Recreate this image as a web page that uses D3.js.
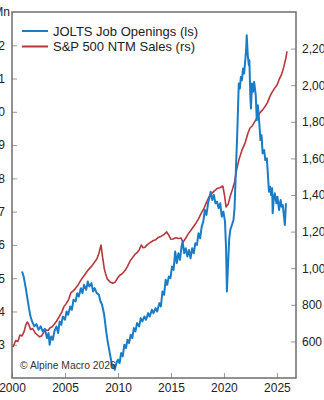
<!DOCTYPE html>
<html><head><meta charset="utf-8">
<script src="https://cdn.jsdelivr.net/npm/d3@7"></script>
<style>body{margin:0;background:#fff;overflow:hidden}svg{display:block;font-family:"Liberation Sans",Arial,sans-serif}</style>
</head><body><svg id="c" width="324" height="400"></svg>
<script>
const joltsYears=[2000.95,2001.1,2001.3,2001.45,2001.6,2001.75,2001.9,2002.1,2002.3,2002.5,2002.7,2002.9,2003.1,2003.3,2003.45,2003.55,2003.7,2003.85,2004.0,2004.2,2004.35,2004.5,2004.65,2004.8,2005.0,2005.15,2005.3,2005.5,2005.65,2005.8,2006.0,2006.15,2006.3,2006.5,2006.65,2006.8,2007.0,2007.15,2007.3,2007.5,2007.65,2007.8,2008.0,2008.2,2008.35,2008.5,2008.7,2008.85,2009.0,2009.2,2009.4,2009.5,2009.6,2009.7,2009.85,2010.0,2010.15,2010.3,2010.45,2010.6,2010.75,2010.9,2011.05,2011.2,2011.35,2011.5,2011.65,2011.8,2012.0,2012.15,2012.3,2012.5,2012.65,2012.85,2013.0,2013.2,2013.35,2013.55,2013.7,2013.9,2014.05,2014.2,2014.35,2014.5,2014.65,2014.8,2014.95,2015.1,2015.25,2015.4,2015.55,2015.7,2015.85,2016.0,2016.1,2016.25,2016.4,2016.55,2016.7,2016.85,2017.0,2017.15,2017.3,2017.45,2017.6,2017.75,2017.9,2018.05,2018.2,2018.35,2018.5,2018.65,2018.75,2018.9,2019.05,2019.2,2019.35,2019.5,2019.65,2019.8,2019.95,2020.1,2020.2,2020.28,2020.4,2020.5,2020.6,2020.75,2020.9,2021.0,2021.1,2021.25,2021.4,2021.5,2021.6,2021.7,2021.8,2021.9,2022.0,2022.1,2022.15,2022.25,2022.35,2022.4,2022.5,2022.55,2022.65,2022.75,2022.85,2023.0,2023.1,2023.2,2023.35,2023.45,2023.55,2023.65,2023.8,2023.9,2024.05,2024.15,2024.25,2024.35,2024.45,2024.55,2024.6,2024.7,2024.8,2024.95,2025.05,2025.2,2025.35,2025.45,2025.55,2025.65,2025.75,2025.85];
const joltsValues=[5.2,5.05,4.7,4.4,4.1,3.85,3.7,3.55,3.62,3.45,3.55,3.4,3.48,3.2,3.35,3.0,3.25,3.15,3.4,3.55,3.35,3.7,3.6,3.85,3.75,4.0,3.9,4.15,4.05,4.35,4.3,4.55,4.45,4.7,4.55,4.8,4.65,4.9,4.75,4.85,4.6,4.7,4.55,4.5,4.3,4.2,3.9,3.5,3.15,2.8,2.45,2.3,2.4,2.25,2.45,2.55,2.45,2.75,2.65,3.0,2.9,3.15,3.05,3.3,3.2,3.5,3.4,3.65,3.55,3.8,3.7,3.85,3.75,3.95,3.85,4.05,3.95,4.1,4.0,4.25,4.15,4.6,4.5,4.95,4.8,5.05,5.0,5.35,5.25,5.8,5.45,5.75,5.55,5.95,6.1,5.75,5.9,5.65,5.85,5.6,5.9,5.75,6.05,6.0,6.35,6.2,6.55,6.7,7.05,6.9,7.25,7.45,7.6,7.35,7.5,7.25,7.3,7.1,7.25,6.85,7.0,6.7,5.9,4.6,5.5,6.2,6.45,6.6,6.75,7.1,8.0,9.3,10.85,10.7,11.05,10.95,11.3,11.15,11.5,11.9,12.3,11.7,11.4,11.55,10.4,10.1,10.85,10.6,10.9,10.5,9.75,10.2,9.6,9.15,9.3,8.75,8.85,8.55,8.6,8.1,7.6,7.75,7.5,7.7,6.95,7.4,7.55,7.25,7.45,7.05,7.35,7.15,7.2,6.9,6.6,7.25];
const salesYears=[2000.1,2000.35,2000.55,2000.75,2000.95,2001.15,2001.3,2001.45,2001.6,2001.75,2001.95,2002.2,2002.4,2002.6,2002.8,2003.0,2003.2,2003.4,2003.6,2003.8,2004.0,2004.2,2004.45,2004.7,2004.9,2005.1,2005.35,2005.55,2005.75,2006.0,2006.2,2006.5,2006.75,2007.0,2007.25,2007.5,2007.75,2008.0,2008.2,2008.4,2008.55,2008.7,2008.85,2009.0,2009.25,2009.5,2009.75,2009.95,2010.15,2010.4,2010.7,2010.9,2011.15,2011.4,2011.6,2011.8,2012.0,2012.2,2012.35,2012.55,2012.8,2013.0,2013.3,2013.55,2013.8,2014.1,2014.35,2014.6,2014.8,2015.0,2015.2,2015.45,2015.7,2015.95,2016.15,2016.4,2016.6,2016.85,2017.1,2017.4,2017.6,2017.85,2018.1,2018.35,2018.6,2018.8,2019.05,2019.35,2019.6,2019.9,2020.05,2020.2,2020.4,2020.6,2020.8,2021.0,2021.2,2021.45,2021.7,2022.0,2022.25,2022.45,2022.7,2022.9,2023.15,2023.4,2023.65,2023.9,2024.1,2024.35,2024.55,2024.8,2025.0,2025.2,2025.45,2025.65,2025.85,2025.95];
const salesValues=[569,605,600,635,630,655,690,706,690,665,670,645,635,625,630,650,662,660,675,680,695,710,735,760,790,805,830,865,875,890,905,935,955,975,995,1010,1030,1050,1080,1127,1060,1000,965,940,925,918,925,945,960,970,990,1010,1040,1060,1075,1085,1100,1127,1112,1115,1130,1138,1150,1155,1168,1175,1185,1198,1180,1158,1160,1166,1162,1165,1143,1165,1185,1205,1225,1250,1270,1300,1325,1360,1390,1405,1420,1435,1440,1449,1400,1335,1350,1395,1430,1470,1540,1600,1645,1685,1735,1765,1780,1800,1826,1850,1865,1885,1905,1940,1962,1985,2000,2030,2060,2100,2150,2185];
const leftTicks=[3,4,5,6,7,8,9,10,11,12];
const rightTicks=[600,800,1000,1200,1400,1600,1800,2000,2200];
const yearTicks=[2000,2005,2010,2015,2020,2025];
const seriesNames=["JOLTS Job Openings (ls)","S&P 500 NTM Sales (rs)"];
const colors=["#1a7cc7","#b8373d"];

const svg=d3.select("#c");
const L=12,R=296,T=12,B=378;
const x=d3.scaleLinear().domain([2000,2026.8]).range([L,R]);
const yl=d3.scaleLinear().domain([2,13]).range([B,T]);
const yr=d3.scaleLinear().domain([400,2400]).range([B,T]);

function styleAxis(g){
  g.select(".domain").remove();
  g.selectAll(".tick line").attr("stroke","#999");
  g.selectAll(".tick text").attr("fill","#222").attr("font-size",12);
}
svg.append("g").attr("transform",`translate(${L},0)`)
  .call(d3.axisLeft(yl).tickValues(leftTicks).tickSize(-5).tickPadding(7).tickFormat(d3.format("d"))).call(styleAxis);
svg.append("g").attr("transform",`translate(${R},0)`)
  .call(d3.axisRight(yr).tickValues(rightTicks).tickSize(-5).tickPadding(6).tickFormat(d3.format(","))).call(styleAxis);
svg.append("g").attr("transform",`translate(0,${B})`)
  .call(d3.axisBottom(x).tickValues(yearTicks).tickSize(-5).tickPadding(5).tickFormat(d3.format("d"))).call(styleAxis);
svg.append("text").attr("x",10).attr("y",yl(13)).attr("dy","0.35em").attr("text-anchor","end")
  .attr("font-size",12).attr("fill","#222").text("Mn");

svg.append("rect").attr("x",L).attr("y",T).attr("width",R-L).attr("height",B-T)
  .attr("fill","none").attr("stroke","#6d6d6d").attr("stroke-width",1.5);

const jolts=joltsYears.map((d,i)=>[d,joltsValues[i]]);
const sales=salesYears.map((d,i)=>[d,salesValues[i]]);
svg.append("path").datum(sales).attr("fill","none").attr("stroke",colors[1]).attr("stroke-width",1.6)
  .attr("stroke-linejoin","round").attr("d",d3.line().x(d=>x(d[0])).y(d=>yr(d[1])));
svg.append("path").datum(jolts).attr("fill","none").attr("stroke",colors[0]).attr("stroke-width",2)
  .attr("stroke-linejoin","round").attr("d",d3.line().x(d=>x(d[0])).y(d=>yl(d[1])));

const leg=svg.append("g");
seriesNames.forEach((n,i)=>{
  const yy=31+i*15.5;
  leg.append("line").attr("x1",22).attr("x2",48).attr("y1",yy).attr("y2",yy).attr("stroke",colors[i]).attr("stroke-width",2);
  leg.append("text").attr("x",53).attr("y",yy).attr("dy","0.35em").attr("font-size",13).attr("fill","#222").text(n);
});
svg.append("text").attr("x",20).attr("y",365).attr("dy","0.35em").attr("font-size",10.3).attr("fill","#333").text("© Alpine Macro 2026");
</script></body></html>
